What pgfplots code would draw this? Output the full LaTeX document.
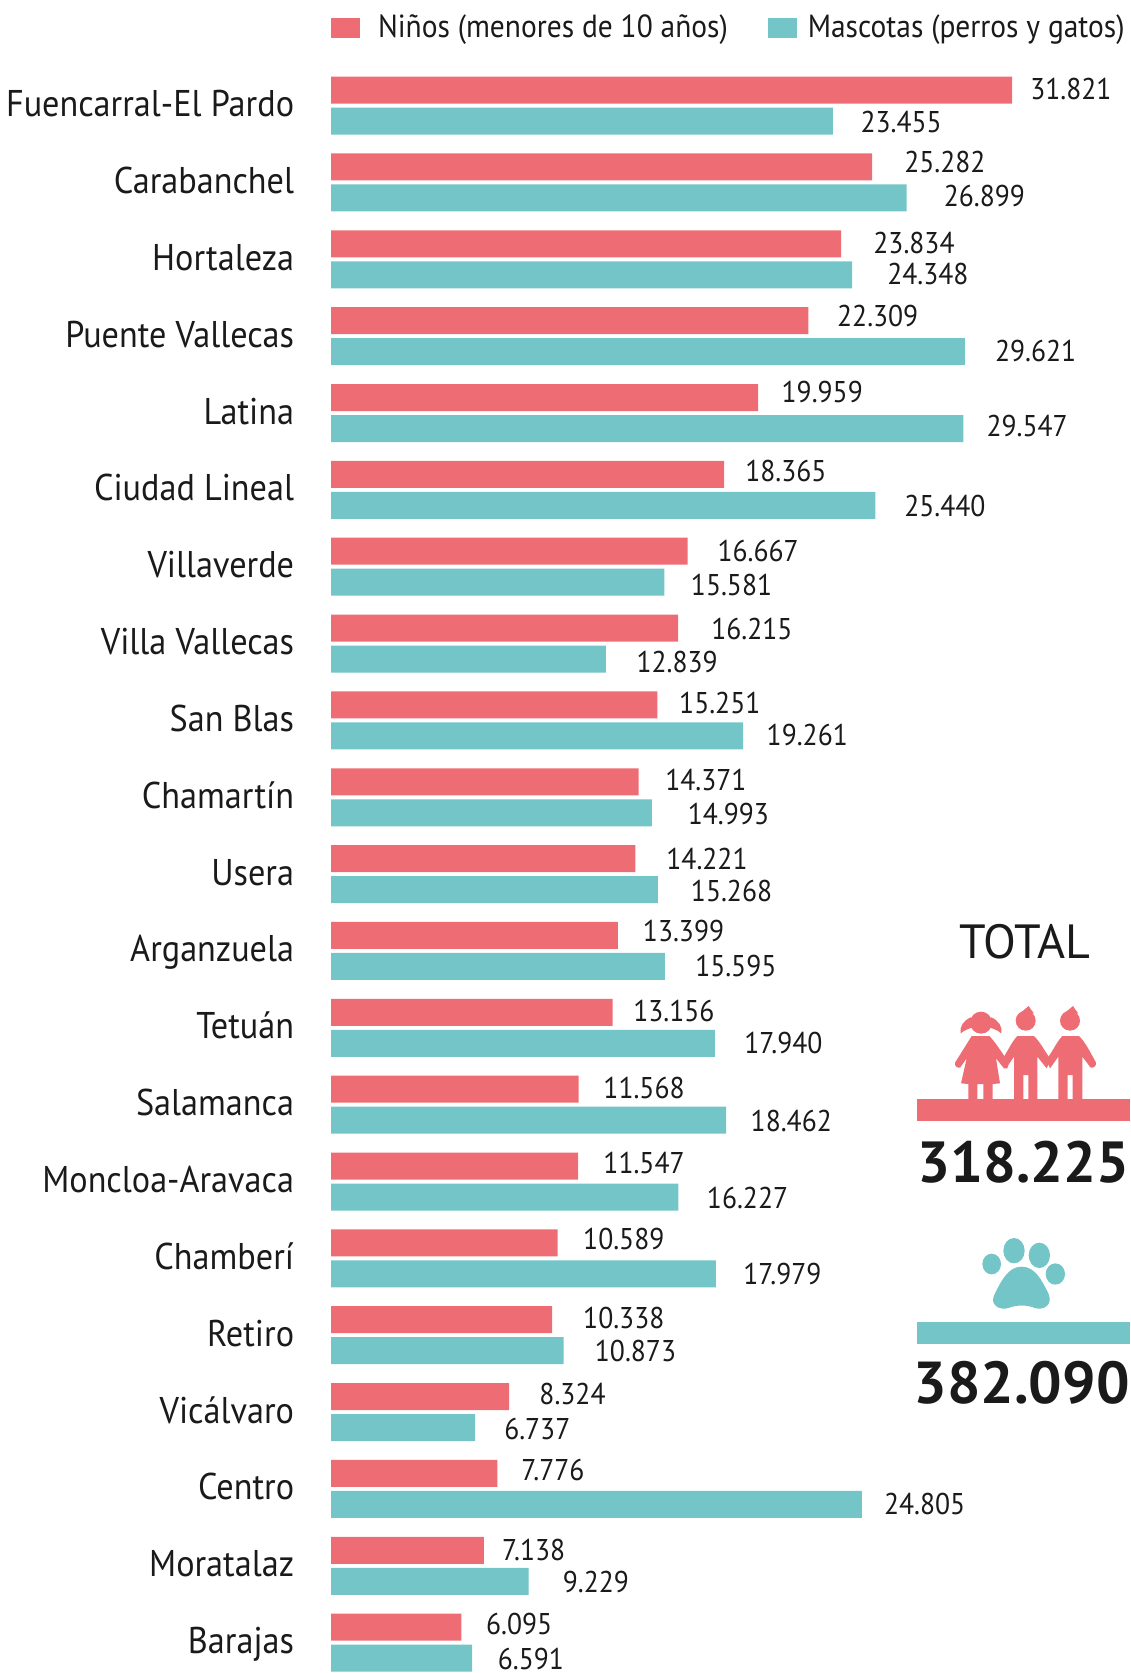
\documentclass[border=0pt]{standalone}
\usepackage{fontspec}
\setmainfont{PT Sans}[FakeStretch=0.92]
\newfontfamily\ptn{PT Sans}
\usepackage{pgfplots}
\usepackage{pgfplotstable}
\pgfplotsset{compat=1.18}
\definecolor{rojo}{HTML}{EE6D75}
\definecolor{verde}{HTML}{73C5C7}
\definecolor{tinta}{HTML}{1A1A1A}
% i, value for each series, then the left edge and the mid height of its number (in px of the shrunk view)
\pgfplotstableread{
i n nx ny m mx my
0 31821 965 83 23455 806 114
1 25282 847 152 26899 884 184
2 23834 818 228 24348 831 257
3 22309 784 296 29621 932 329
4 19959 732 368 29547 924 399
5 18365 698 442 25440 847 474
6 16667 672 517 15581 647 548
7 16215 666 590 12839 596 621
8 15251 636 659 19261 718 689
9 14371 623 731 14993 644 763
10 14221 624 805 15268 647 835
11 13399 602 873 15595 651 906
12 13156 593 948 17940 697 978
13 11568 565 1020 18462 703 1051
14 11547 565 1090 16227 662 1123
15 10589 546 1162 17979 696 1194
16 10338 546 1236 10873 557 1267
17 8324 505 1307 6737 472 1340
18 7776 488 1378 24805 828 1410
19 7138 470 1453 9229 527 1483
20 6095 455 1523 6591 466 1555
}\datos
\begin{document}
\begin{tikzpicture}[x=0.5pt,y=-0.5pt]
\path[use as bounding box] (0,0) rectangle (1130,1673);
\begin{axis}[
  at={(165.5pt,0pt)}, anchor=north west,
  scale only axis, width=399.5pt, height=836.5pt,
  y dir=reverse, xbar, clip=false,
  xmin=0, xmax=37335, ymin=-1.374, ymax=20.396,
  axis line style={draw=none}, major tick style={draw=none},
  xtick=\empty,
  ytick={0,...,20},
  yticklabels={Fuencarral-El Pardo,Carabanchel,Hortaleza,Puente Vallecas,Latina,Ciudad Lineal,Villaverde,Villa Vallecas,San Blas,Chamartín,Usera,Arganzuela,Tetuán,Salamanca,Moncloa-Aravaca,Chamberí,Retiro,Vicálvaro,Centro,Moratalaz,Barajas},
  y tick label style={font=\fontsize{18.6}{18.6}\selectfont, text=tinta, inner sep=0pt, anchor=base east, xshift=-14pt, yshift=-5.5pt},
  bar width=13.5pt,
  point meta=x,
  nodes near coords={\pgfmathprintnumber[fixed,precision=0,1000 sep={.},min exponent for 1000 sep=0,assume math mode=true]{\pgfplotspointmeta}},
  legend columns=2,
  legend cell align=left,
  legend style={at={(axis cs:0,-1.374)}, anchor=north west, draw=none, fill=none, inner sep=0pt, outer sep=0pt,
    xshift=0pt, yshift=-5.5pt,
    font=\fontsize{16}{16}\selectfont, text=tinta,
    /tikz/every even column/.append style={column sep=18pt},
    /tikz/every odd column/.append style={column sep=7pt}},
  legend image code/.code={\fill[#1] (0pt,-5pt) rectangle (14.5pt,5pt);},
]
\addplot[fill=rojo, draw=none, bar shift=7.75pt,
  visualization depends on={(\thisrow{nx}-310-0.020057*\thisrow{n})*0.5335 \as \dx},
  visualization depends on={-(\thisrow{ny}-84.5-72.05*\thisrow{i})*0.5335 \as \dy},
  every node near coord/.append style={anchor=west, inner sep=0pt, text=tinta, font=\fontsize{15}{15}\selectfont, xshift=\dx pt, yshift=\dy pt},
] table[x=n,y=i]{\datos};
\addlegendentry{Niños (menores de 10 años)}
\addplot[fill=verde, draw=none, bar shift=-7.75pt,
  visualization depends on={(\thisrow{mx}-310-0.020057*\thisrow{m})*0.5335 \as \dx},
  visualization depends on={-(\thisrow{my}-113.5-72.05*\thisrow{i})*0.5335 \as \dy},
  every node near coord/.append style={anchor=west, inner sep=0pt, text=tinta, font=\fontsize{15}{15}\selectfont, xshift=\dx pt, yshift=\dy pt},
] table[x=m,y=i]{\datos};
\addlegendentry{\hspace*{-3.5pt}Mascotas (perros y gatos)}
\end{axis}
% totals panel
\node[anchor=base, text=tinta, inner sep=0pt, font=\ptn\fontsize{24}{24}\selectfont] at (1025,958) {TOTAL};
\fill[rojo] (917,1099) rectangle (1130,1121);
\node[anchor=base east, text=tinta, inner sep=0pt, font=\ptn\fontsize{29}{29}\selectfont\bfseries] at (1129.5,1182) {318.225};
\fill[verde] (917,1322) rectangle (1130,1344);
\node[anchor=base east, text=tinta, inner sep=0pt, font=\ptn\fontsize{29.6}{29.6}\selectfont\bfseries] at (1130,1403) {382.090};
\begin{scope}[shift={(900,900)}, x=0.1666667pt, y=-0.1666667pt]
  % children
  \fill[rojo] (243,368) circle [radius=33];
  \fill[rojo] (212,352) .. controls (190,362) and (178,380) .. (182,400) .. controls (195,388) and (212,385) .. (225,380) -- cycle;
  \fill[rojo] (274,352) .. controls (296,362) and (308,380) .. (304,400) .. controls (290,388) and (274,385) .. (262,380) -- cycle;
  \fill[rojo] (215,408) -- (268,408) .. controls (285,425) and (300,450) .. (320,478) -- (332,470) -- (322,505) -- (312,505) -- (288,475) -- (300,550) -- (278,552) -- (278,597) -- (250,597) -- (250,552) -- (232,552) -- (232,597) -- (205,597) -- (205,552) -- (183,550) -- (200,475) -- (180,503) .. controls (172,505) and (162,497) .. (165,488) -- cycle;
  \fill[rojo] (377,362) circle [radius=30];
  \fill[rojo] (362,340) .. controls (370,330) and (378,325) .. (386,318) .. controls (390,325) and (395,332) .. (402,340) -- cycle;
  \fill[rojo] (352,408) -- (402,408) .. controls (420,425) and (435,455) .. (452,478) -- (440,505) -- (412,470) -- (412,597) -- (385,597) -- (385,525) -- (370,525) -- (370,597) -- (342,597) -- (342,470) -- (318,505) -- (305,480) .. controls (320,460) and (335,425) .. (352,408) -- cycle;
  \fill[rojo] (510,362) circle [radius=30];
  \fill[rojo] (495,340) .. controls (503,330) and (511,325) .. (519,318) .. controls (523,325) and (528,332) .. (535,340) -- cycle;
  \fill[rojo] (487,408) -- (537,408) .. controls (555,425) and (570,455) .. (588,488) .. controls (590,497) and (580,505) .. (572,503) -- (547,470) -- (547,597) -- (518,597) -- (518,525) -- (503,525) -- (503,597) -- (475,597) -- (475,470) -- (450,505) -- (438,480) .. controls (455,460) and (470,425) .. (487,408) -- cycle;
  % paw
  \fill[verde] (275,1092) circle [x radius=28, y radius=31];
  \fill[verde] (342,1052) circle [x radius=32, y radius=38];
  \fill[verde] (418,1066) circle [x radius=32, y radius=38];
  \fill[verde] (466,1122) circle [x radius=29, y radius=32];
  \fill[verde] (365,1100) .. controls (405,1100) and (425,1140) .. (445,1180) .. controls (460,1215) and (430,1232) .. (405,1224) .. controls (380,1214) and (350,1214) .. (325,1224) .. controls (300,1232) and (265,1215) .. (285,1180) .. controls (305,1140) and (325,1100) .. (365,1100) -- cycle;
\end{scope}
\end{tikzpicture}
\end{document}
